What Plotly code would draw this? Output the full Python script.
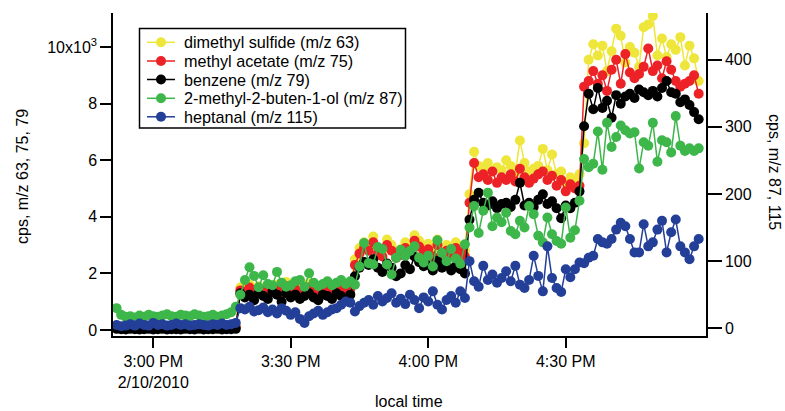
import pandas as pd
import plotly.graph_objects as go

# ---- data ----
start_time = "2010-02-10 14:52:00"
n_points = 128
sample_interval = "1min"

dms_m63 = [130, 110, 90, 120, 100, 80, 110, 130, 90, 100, 120, 80, 110, 100, 90, 120, 110, 100, 130, 90, 100, 110, 120, 90, 100, 110, 130,
           1500, 1450, 1600, 1400, 1550, 1480, 1350, 1520, 1600, 1420, 1700, 1480, 1550, 1400, 1500, 1650, 1450, 1380, 1550, 1500, 1450, 1600, 1500, 1420, 1550,
           2500, 2900, 3100, 3000, 3300, 2900, 2800, 3200, 3000, 2750, 2850, 3100, 2900, 3350, 3150, 2950, 3050, 2800, 3200, 2900, 3000, 2850, 3100, 2950, 2800,
           4800, 6300, 5800, 5700, 5900, 5600, 5750, 5650, 6000, 5800, 5550, 6700, 5900, 5600, 5700, 5800, 6400, 5650, 6200, 5500, 5600, 5200, 5400, 5300, 5500,
           6600, 9550, 10100, 9700, 10050, 9150, 9850, 10650, 10400, 9450, 10000, 9800, 9300, 10700, 10800, 11100, 9700, 10300, 9650, 10100, 9900, 10350, 9350, 10050, 9600, 8800]

macet_m75 = [100, 80, 70, 90, 80, 60, 90, 100, 70, 80, 90, 60, 80, 70, 70, 90, 80, 70, 100, 70, 80, 90, 90, 70, 80, 90, 100,
             1400, 1350, 1500, 1300, 1450, 1380, 1250, 1420, 1500, 1300, 1550, 1380, 1450, 1300, 1400, 1500, 1350, 1280, 1450, 1400, 1350, 1500, 1400, 1320, 1450,
             2300, 2700, 2900, 2800, 3100, 2700, 2600, 3000, 2800, 2550, 2650, 2900, 2700, 3150, 2950, 2750, 2850, 2600, 3000, 2700, 2800, 2650, 2900, 2750, 2600,
             4500, 5900, 5400, 5500, 5300, 5600, 5200, 5400, 5300, 5500, 5250, 5700, 5400, 5200, 5350, 5500, 5600, 5300, 5450, 5100, 5300, 4900, 5150, 5000, 5100,
             8600, 8800, 9150, 8700, 9000, 8450, 9200, 9550, 8700, 9750, 9100, 8900, 9050, 9300, 9950, 9150, 9350, 8900, 9500, 9200, 8800, 8600, 8700, 8800, 9000, 8350]

benz_m79 = [40, 30, 20, 40, 30, 20, 30, 40, 20, 30, 40, 20, 30, 30, 20, 40, 30, 20, 40, 20, 30, 30, 40, 20, 30, 30, 40,
            1300, 1150, 1250, 1050, 1300, 1200, 1100, 1350, 1250, 1000, 1300, 1150, 1250, 1100, 1200, 1300, 1150, 1050, 1250, 1200, 1100, 1300, 1200, 1100, 1250,
            1900, 2200, 2400, 2300, 2500, 2200, 2050, 2350, 2200, 1900, 2000, 2300, 2150, 2600, 2400, 2250, 2300, 2100, 2450, 2200, 2300, 2100, 2250, 2150, 2000,
            3900, 4600, 4850, 4500, 4400, 4550, 4300, 4450, 4500, 4350, 4600, 5200, 4400, 4500, 4350, 4600, 4800, 4450, 4550, 4300, 3950, 4400, 4300, 4500, 4900,
            7200, 8350, 7800, 8550, 7850, 8100, 7500, 8300, 8000, 8250, 8350, 8200, 8500, 8400, 8300, 8450, 8250, 8550, 8800, 8400, 8350, 8050, 8150, 7950, 7700, 7450]

mbo_m87 = [30, 20, 17, 18, 16, 19, 17, 20, 18, 17, 19, 21, 18, 17, 20, 19, 18, 21, 19, 17, 18, 20, 17, 19, 21, 24, 32,
           50, 72, 91, 78, 61, 79, 66, 64, 84, 68, 62, 64, 70, 72, 62, 82, 68, 63, 66, 70, 64, 68, 72, 66, 70,
           65, 92, 127, 97, 95, 121, 118, 95, 80, 105, 117, 108, 115, 122, 105, 98, 108, 92, 131, 112, 100, 118, 104, 96, 125,
           150, 182, 142, 175, 202, 152, 165, 158, 172, 145, 140, 160, 150, 182, 170, 138, 128, 165, 140, 130, 126, 180, 135, 146, 190,
           252, 240, 245, 293, 236, 306, 270, 285, 302, 295, 290, 292, 238, 277, 272, 306, 248, 280, 277, 262, 316, 272, 264, 268, 264, 268]

hept_m115 = [5, 3, 4, 6, 4, 7, 5, 4, 8, 5, 6, 4, 5, 7, 5, 6, 4, 5, 6, 5, 4, 6, 5, 7, 5, 6, 8,
             30, 28, 32, 25, 27, 31, 24, 28, 22, 30, 26, 20, 24, 14, 8, 18, 22, 26, 20, 24, 28, 30, 35, 40, 38,
             25, 33, 38, 42, 35, 48, 40, 45, 52, 38, 44, 36, 50, 42, 30, 46, 40, 55, 35, 28, 42, 48, 38, 55, 45,
             100, 70, 62, 93, 72, 80, 68, 75, 85, 70, 93, 65, 60, 72, 108, 78, 55, 122, 75, 60, 54, 88, 76, 88, 98,
             97, 105, 108, 133, 128, 126, 133, 147, 157, 152, 133, 113, 113, 155, 122, 128, 147, 160, 113, 143, 162, 122, 113, 103, 122, 133]

series_names = ["dimethyl sulfide (m/z 63)", "methyl acetate (m/z 75)", "benzene (m/z 79)",
                "2-methyl-2-buten-1-ol (m/z 87)", "heptanal (m/z 115)"]
series_colors = ["#EEE63A", "#EC2227", "#000000", "#3DB64A", "#233F98"]

x_tick_vals = ["2010-02-10 15:00", "2010-02-10 15:30", "2010-02-10 16:00", "2010-02-10 16:30"]
x_tick_text = ["3:00 PM<br>2/10/2010", "3:30 PM", "4:00 PM", "4:30 PM"]
y1_tick_vals = [0, 2000, 4000, 6000, 8000, 10000]
y1_tick_text = ["0", "2", "4", "6", "8", "10x10<sup>3</sup>"]
y2_tick_vals = [0, 100, 200, 300, 400]

times = pd.date_range(start_time, periods=n_points, freq=sample_interval)

FONT = "Liberation Sans, Arial, sans-serif"

# plot area in pixels
PL, PR, PT, PB = 113, 706, 13, 336
PW, PH = PR - PL, PB - PT


def px(xp):
    return (xp - PL) / PW


def py(yp):
    return (PB - yp) / PH


fig = go.Figure()
all_series = [(dms_m63, "y"), (macet_m75, "y"), (benz_m79, "y"), (mbo_m87, "y2"), (hept_m115, "y2")]
for (vals, ax), name, col in zip(all_series, series_names, series_colors):
    fig.add_trace(go.Scatter(
        x=times, y=vals, name=name, yaxis=ax, mode="lines+markers",
        line=dict(color=col, width=1.5),
        marker=dict(color=col, size=10),
        showlegend=False,
    ))

# ---- legend drawn as layout shapes / annotations ----
shapes = [dict(type="rect", xref="paper", yref="paper",
               x0=px(139.5), x1=px(405.5), y0=py(28.5), y1=py(128),
               line=dict(color="black", width=1.5), fillcolor="white", layer="above")]
annotations = []
row_y = [42.3, 61.0, 79.5, 98.3, 116.8]
for name, col, ry in zip(series_names, series_colors, row_y):
    shapes.append(dict(type="line", xref="paper", yref="paper",
                       x0=px(147), x1=px(175), y0=py(ry), y1=py(ry),
                       line=dict(color=col, width=1.5), layer="above"))
    shapes.append(dict(type="circle", xref="paper", yref="paper",
                       xsizemode="pixel", ysizemode="pixel",
                       xanchor=px(161), yanchor=py(ry),
                       x0=-5, x1=5, y0=-5, y1=5,
                       line=dict(color=col, width=0), fillcolor=col, layer="above"))
    annotations.append(dict(text=name, xref="paper", yref="paper",
                            x=px(182), y=py(ry), xanchor="left", yanchor="middle",
                            showarrow=False, font=dict(size=16.2, color="black")))

annotations += [
    dict(text="cps, m/z 63, 75, 79", xref="paper", yref="paper",
         x=px(22), y=py(177), textangle=-90,
         showarrow=False, xanchor="center", yanchor="middle", font=dict(size=16)),
    dict(text="cps, m/z 87, 115", xref="paper", yref="paper",
         x=px(775), y=py(172), textangle=90,
         showarrow=False, xanchor="center", yanchor="middle", font=dict(size=16)),
    dict(text="local time", xref="paper", yref="paper",
         x=px(409), y=py(401),
         showarrow=False, xanchor="center", yanchor="middle", font=dict(size=16)),
]

fig.update_layout(
    width=785, height=411,
    margin=dict(l=PL, r=785 - PR, t=PT, b=411 - PB),
    paper_bgcolor="white", plot_bgcolor="white",
    font=dict(family=FONT, size=16, color="black"),
    showlegend=False,
    xaxis=dict(
        range=["2010-02-10 14:51:13", "2010-02-10 17:00:36"],
        tickmode="array", tickvals=x_tick_vals, ticktext=x_tick_text,
        showgrid=False, zeroline=False,
        showline=True, linecolor="black", linewidth=1.5,
        ticks="outside", ticklen=10, tickwidth=1.5, tickcolor="black",
        tickfont=dict(size=16),
    ),
    yaxis=dict(
        range=[-212, 11203],
        tickmode="array", tickvals=y1_tick_vals, ticktext=y1_tick_text,
        showgrid=False, zeroline=False,
        showline=True, linecolor="black", linewidth=1.5,
        ticks="outside", ticklen=11, tickwidth=1.5, tickcolor="black",
        tickfont=dict(size=16),
    ),
    yaxis2=dict(
        range=[-11.5, 469.6], overlaying="y", side="right",
        tickmode="array", tickvals=y2_tick_vals,
        showgrid=False, zeroline=False,
        showline=True, linecolor="black", linewidth=1.5,
        ticks="outside", ticklen=14, tickwidth=1.5, tickcolor="black",
        tickfont=dict(size=16),
    ),
    shapes=shapes,
    annotations=annotations,
)

fig.write_html("out.html")
